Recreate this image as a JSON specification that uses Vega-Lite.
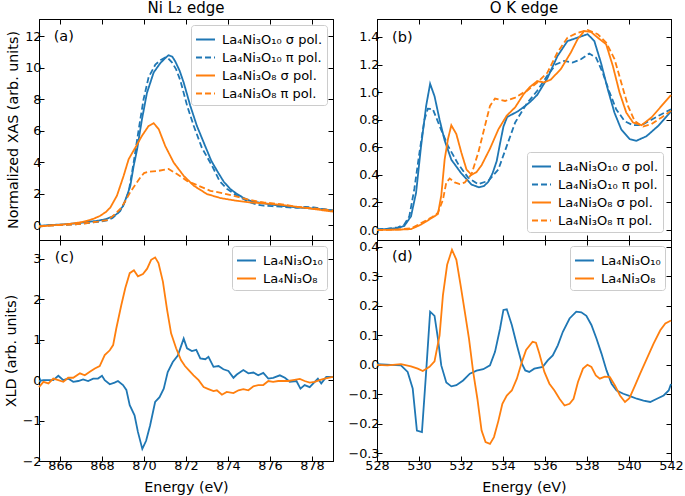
{
"$schema": "https://vega.github.io/schema/vega-lite/v6.json",
"background": "white",
"padding": {"left": 3, "top": 0, "right": 5, "bottom": 5},
"config": {
  "font": "DejaVu Sans",
  "view": {"stroke": "black", "strokeWidth": 1},
  "axis": {"grid": false, "domainColor": "black", "domainWidth": 1, "tickColor": "black", "tickWidth": 1, "tickSize": -5, "labelPadding": 3, "labelFont": "DejaVu Sans", "labelFontSize": 12.8, "labelColor": "black", "titleFont": "DejaVu Sans", "titleFontSize": 14.3, "titleFontWeight": "normal", "titleColor": "black", "titlePadding": 4, "labelFlush": false, "labelOverlap": false},
  "legend": {"symbolType": "stroke", "symbolSize": 361, "symbolStrokeWidth": 2, "labelFont": "DejaVu Sans", "labelFontSize": 13, "labelColor": "black", "labelOffset": 6, "strokeColor": "#cccccc", "fillColor": "white", "padding": 4, "cornerRadius": 3, "rowPadding": -3, "offset": 6, "labelLimit": 300},
  "title": {"font": "DejaVu Sans", "fontSize": 15, "fontWeight": "normal", "color": "black", "offset": 3}
},
"datasets": {
"a": [
{"E":865.0,"v":-0.05,"s":"La₄Ni₃O₁₀ σ pol."},{"E":865.5,"v":0.0,"s":"La₄Ni₃O₁₀ σ pol."},{"E":866.0,"v":0.03,"s":"La₄Ni₃O₁₀ σ pol."},{"E":866.5,"v":0.08,"s":"La₄Ni₃O₁₀ σ pol."},{"E":867.0,"v":0.14,"s":"La₄Ni₃O₁₀ σ pol."},{"E":867.3,"v":0.21,"s":"La₄Ni₃O₁₀ σ pol."},{"E":867.7,"v":0.25,"s":"La₄Ni₃O₁₀ σ pol."},{"E":868.2,"v":0.38,"s":"La₄Ni₃O₁₀ σ pol."},{"E":868.5,"v":0.55,"s":"La₄Ni₃O₁₀ σ pol."},{"E":868.7,"v":0.7,"s":"La₄Ni₃O₁₀ σ pol."},{"E":869.0,"v":1.2,"s":"La₄Ni₃O₁₀ σ pol."},{"E":869.2,"v":1.9,"s":"La₄Ni₃O₁₀ σ pol."},{"E":869.35,"v":2.5,"s":"La₄Ni₃O₁₀ σ pol."},{"E":869.5,"v":3.7,"s":"La₄Ni₃O₁₀ σ pol."},{"E":869.67,"v":4.8,"s":"La₄Ni₃O₁₀ σ pol."},{"E":869.9,"v":6.7,"s":"La₄Ni₃O₁₀ σ pol."},{"E":870.14,"v":8.4,"s":"La₄Ni₃O₁₀ σ pol."},{"E":870.46,"v":9.7,"s":"La₄Ni₃O₁₀ σ pol."},{"E":870.78,"v":10.3,"s":"La₄Ni₃O₁₀ σ pol."},{"E":871.0,"v":10.6,"s":"La₄Ni₃O₁₀ σ pol."},{"E":871.17,"v":10.8,"s":"La₄Ni₃O₁₀ σ pol."},{"E":871.35,"v":10.7,"s":"La₄Ni₃O₁₀ σ pol."},{"E":871.49,"v":10.4,"s":"La₄Ni₃O₁₀ σ pol."},{"E":871.7,"v":9.8,"s":"La₄Ni₃O₁₀ σ pol."},{"E":871.89,"v":9.06,"s":"La₄Ni₃O₁₀ σ pol."},{"E":872.2,"v":7.6,"s":"La₄Ni₃O₁₀ σ pol."},{"E":872.52,"v":6.3,"s":"La₄Ni₃O₁₀ σ pol."},{"E":872.92,"v":5.0,"s":"La₄Ni₃O₁₀ σ pol."},{"E":873.2,"v":4.1,"s":"La₄Ni₃O₁₀ σ pol."},{"E":873.5,"v":3.4,"s":"La₄Ni₃O₁₀ σ pol."},{"E":873.8,"v":2.75,"s":"La₄Ni₃O₁₀ σ pol."},{"E":874.1,"v":2.3,"s":"La₄Ni₃O₁₀ σ pol."},{"E":874.43,"v":1.97,"s":"La₄Ni₃O₁₀ σ pol."},{"E":874.75,"v":1.72,"s":"La₄Ni₃O₁₀ σ pol."},{"E":875.06,"v":1.54,"s":"La₄Ni₃O₁₀ σ pol."},{"E":875.4,"v":1.45,"s":"La₄Ni₃O₁₀ σ pol."},{"E":875.7,"v":1.38,"s":"La₄Ni₃O₁₀ σ pol."},{"E":876.1,"v":1.3,"s":"La₄Ni₃O₁₀ σ pol."},{"E":876.5,"v":1.23,"s":"La₄Ni₃O₁₀ σ pol."},{"E":876.9,"v":1.17,"s":"La₄Ni₃O₁₀ σ pol."},{"E":877.3,"v":1.12,"s":"La₄Ni₃O₁₀ σ pol."},{"E":877.7,"v":1.08,"s":"La₄Ni₃O₁₀ σ pol."},{"E":878.1,"v":1.05,"s":"La₄Ni₃O₁₀ σ pol."},{"E":878.5,"v":1.0,"s":"La₄Ni₃O₁₀ σ pol."},{"E":879.0,"v":0.93,"s":"La₄Ni₃O₁₀ σ pol."},
{"E":865.0,"v":-0.08,"s":"La₄Ni₃O₁₀ π pol."},{"E":865.5,"v":-0.02,"s":"La₄Ni₃O₁₀ π pol."},{"E":866.0,"v":0.0,"s":"La₄Ni₃O₁₀ π pol."},{"E":866.5,"v":0.03,"s":"La₄Ni₃O₁₀ π pol."},{"E":867.0,"v":0.08,"s":"La₄Ni₃O₁₀ π pol."},{"E":867.3,"v":0.13,"s":"La₄Ni₃O₁₀ π pol."},{"E":867.8,"v":0.2,"s":"La₄Ni₃O₁₀ π pol."},{"E":868.24,"v":0.3,"s":"La₄Ni₃O₁₀ π pol."},{"E":868.5,"v":0.45,"s":"La₄Ni₃O₁₀ π pol."},{"E":868.87,"v":0.9,"s":"La₄Ni₃O₁₀ π pol."},{"E":869.1,"v":1.5,"s":"La₄Ni₃O₁₀ π pol."},{"E":869.27,"v":2.1,"s":"La₄Ni₃O₁₀ π pol."},{"E":869.51,"v":4.0,"s":"La₄Ni₃O₁₀ π pol."},{"E":869.75,"v":6.1,"s":"La₄Ni₃O₁₀ π pol."},{"E":869.98,"v":8.0,"s":"La₄Ni₃O₁₀ π pol."},{"E":870.22,"v":9.4,"s":"La₄Ni₃O₁₀ π pol."},{"E":870.54,"v":10.2,"s":"La₄Ni₃O₁₀ π pol."},{"E":870.8,"v":10.5,"s":"La₄Ni₃O₁₀ π pol."},{"E":871.01,"v":10.65,"s":"La₄Ni₃O₁₀ π pol."},{"E":871.15,"v":10.6,"s":"La₄Ni₃O₁₀ π pol."},{"E":871.33,"v":10.35,"s":"La₄Ni₃O₁₀ π pol."},{"E":871.53,"v":9.9,"s":"La₄Ni₃O₁₀ π pol."},{"E":871.73,"v":9.2,"s":"La₄Ni₃O₁₀ π pol."},{"E":872.05,"v":7.6,"s":"La₄Ni₃O₁₀ π pol."},{"E":872.37,"v":6.3,"s":"La₄Ni₃O₁₀ π pol."},{"E":872.76,"v":4.9,"s":"La₄Ni₃O₁₀ π pol."},{"E":873.24,"v":3.77,"s":"La₄Ni₃O₁₀ π pol."},{"E":873.6,"v":2.8,"s":"La₄Ni₃O₁₀ π pol."},{"E":873.95,"v":2.3,"s":"La₄Ni₃O₁₀ π pol."},{"E":874.43,"v":1.86,"s":"La₄Ni₃O₁₀ π pol."},{"E":875.06,"v":1.44,"s":"La₄Ni₃O₁₀ π pol."},{"E":875.4,"v":1.3,"s":"La₄Ni₃O₁₀ π pol."},{"E":875.7,"v":1.23,"s":"La₄Ni₃O₁₀ π pol."},{"E":876.1,"v":1.2,"s":"La₄Ni₃O₁₀ π pol."},{"E":876.49,"v":1.17,"s":"La₄Ni₃O₁₀ π pol."},{"E":876.9,"v":1.12,"s":"La₄Ni₃O₁₀ π pol."},{"E":877.29,"v":1.1,"s":"La₄Ni₃O₁₀ π pol."},{"E":877.7,"v":1.15,"s":"La₄Ni₃O₁₀ π pol."},{"E":878.08,"v":1.12,"s":"La₄Ni₃O₁₀ π pol."},{"E":878.5,"v":1.02,"s":"La₄Ni₃O₁₀ π pol."},{"E":879.0,"v":0.93,"s":"La₄Ni₃O₁₀ π pol."},
{"E":865.0,"v":-0.1,"s":"La₄Ni₃O₈ σ pol."},{"E":865.5,"v":-0.03,"s":"La₄Ni₃O₈ σ pol."},{"E":866.0,"v":0.02,"s":"La₄Ni₃O₈ σ pol."},{"E":866.5,"v":0.08,"s":"La₄Ni₃O₈ σ pol."},{"E":867.0,"v":0.18,"s":"La₄Ni₃O₈ σ pol."},{"E":867.29,"v":0.27,"s":"La₄Ni₃O₈ σ pol."},{"E":867.6,"v":0.4,"s":"La₄Ni₃O₈ σ pol."},{"E":867.92,"v":0.59,"s":"La₄Ni₃O₈ σ pol."},{"E":868.2,"v":0.85,"s":"La₄Ni₃O₈ σ pol."},{"E":868.4,"v":1.12,"s":"La₄Ni₃O₈ σ pol."},{"E":868.71,"v":1.86,"s":"La₄Ni₃O₈ σ pol."},{"E":869.03,"v":3.13,"s":"La₄Ni₃O₈ σ pol."},{"E":869.27,"v":4.19,"s":"La₄Ni₃O₈ σ pol."},{"E":869.59,"v":4.93,"s":"La₄Ni₃O₈ σ pol."},{"E":869.9,"v":5.67,"s":"La₄Ni₃O₈ σ pol."},{"E":870.22,"v":6.3,"s":"La₄Ni₃O₈ σ pol."},{"E":870.46,"v":6.48,"s":"La₄Ni₃O₈ σ pol."},{"E":870.7,"v":6.1,"s":"La₄Ni₃O₈ σ pol."},{"E":871.01,"v":5.03,"s":"La₄Ni₃O₈ σ pol."},{"E":871.41,"v":3.98,"s":"La₄Ni₃O₈ σ pol."},{"E":871.89,"v":3.13,"s":"La₄Ni₃O₈ σ pol."},{"E":872.37,"v":2.5,"s":"La₄Ni₃O₈ σ pol."},{"E":873.0,"v":1.97,"s":"La₄Ni₃O₈ σ pol."},{"E":873.63,"v":1.72,"s":"La₄Ni₃O₈ σ pol."},{"E":874.43,"v":1.54,"s":"La₄Ni₃O₈ σ pol."},{"E":875.06,"v":1.44,"s":"La₄Ni₃O₈ σ pol."},{"E":875.7,"v":1.38,"s":"La₄Ni₃O₈ σ pol."},{"E":876.49,"v":1.29,"s":"La₄Ni₃O₈ σ pol."},{"E":877.29,"v":1.16,"s":"La₄Ni₃O₈ σ pol."},{"E":878.08,"v":1.02,"s":"La₄Ni₃O₈ σ pol."},{"E":879.0,"v":0.85,"s":"La₄Ni₃O₈ σ pol."},
{"E":865.0,"v":-0.08,"s":"La₄Ni₃O₈ π pol."},{"E":865.5,"v":-0.03,"s":"La₄Ni₃O₈ π pol."},{"E":866.0,"v":0.0,"s":"La₄Ni₃O₈ π pol."},{"E":866.5,"v":0.03,"s":"La₄Ni₃O₈ π pol."},{"E":867.0,"v":0.07,"s":"La₄Ni₃O₈ π pol."},{"E":867.29,"v":0.13,"s":"La₄Ni₃O₈ π pol."},{"E":867.8,"v":0.22,"s":"La₄Ni₃O₈ π pol."},{"E":868.24,"v":0.32,"s":"La₄Ni₃O₈ π pol."},{"E":868.5,"v":0.55,"s":"La₄Ni₃O₈ π pol."},{"E":868.87,"v":1.02,"s":"La₄Ni₃O₈ π pol."},{"E":869.1,"v":1.5,"s":"La₄Ni₃O₈ π pol."},{"E":869.35,"v":2.1,"s":"La₄Ni₃O₈ π pol."},{"E":869.6,"v":2.6,"s":"La₄Ni₃O₈ π pol."},{"E":869.83,"v":3.03,"s":"La₄Ni₃O₈ π pol."},{"E":870.0,"v":3.3,"s":"La₄Ni₃O₈ π pol."},{"E":870.22,"v":3.39,"s":"La₄Ni₃O₈ π pol."},{"E":870.7,"v":3.45,"s":"La₄Ni₃O₈ π pol."},{"E":871.17,"v":3.56,"s":"La₄Ni₃O₈ π pol."},{"E":871.57,"v":3.24,"s":"La₄Ni₃O₈ π pol."},{"E":872.05,"v":2.81,"s":"La₄Ni₃O₈ π pol."},{"E":872.52,"v":2.54,"s":"La₄Ni₃O₈ π pol."},{"E":873.16,"v":2.18,"s":"La₄Ni₃O₈ π pol."},{"E":873.8,"v":2.01,"s":"La₄Ni₃O₈ π pol."},{"E":874.43,"v":1.8,"s":"La₄Ni₃O₈ π pol."},{"E":875.06,"v":1.59,"s":"La₄Ni₃O₈ π pol."},{"E":875.7,"v":1.44,"s":"La₄Ni₃O₈ π pol."},{"E":876.49,"v":1.33,"s":"La₄Ni₃O₈ π pol."},{"E":877.29,"v":1.16,"s":"La₄Ni₃O₈ π pol."},{"E":878.08,"v":1.06,"s":"La₄Ni₃O₈ π pol."},{"E":879.0,"v":0.93,"s":"La₄Ni₃O₈ π pol."}
],
"b": [
{"E":528.0,"v":0.005,"s":"La₄Ni₃O₁₀ σ pol."},{"E":528.5,"v":0.008,"s":"La₄Ni₃O₁₀ σ pol."},{"E":529.0,"v":0.015,"s":"La₄Ni₃O₁₀ σ pol."},{"E":529.3,"v":0.03,"s":"La₄Ni₃O₁₀ σ pol."},{"E":529.62,"v":0.1,"s":"La₄Ni₃O₁₀ σ pol."},{"E":529.86,"v":0.27,"s":"La₄Ni₃O₁₀ σ pol."},{"E":530.1,"v":0.61,"s":"La₄Ni₃O₁₀ σ pol."},{"E":530.34,"v":0.9,"s":"La₄Ni₃O₁₀ σ pol."},{"E":530.53,"v":1.06,"s":"La₄Ni₃O₁₀ σ pol."},{"E":530.74,"v":0.97,"s":"La₄Ni₃O₁₀ σ pol."},{"E":530.98,"v":0.8,"s":"La₄Ni₃O₁₀ σ pol."},{"E":531.22,"v":0.65,"s":"La₄Ni₃O₁₀ σ pol."},{"E":531.54,"v":0.51,"s":"La₄Ni₃O₁₀ σ pol."},{"E":532.02,"v":0.41,"s":"La₄Ni₃O₁₀ σ pol."},{"E":532.5,"v":0.33,"s":"La₄Ni₃O₁₀ σ pol."},{"E":532.85,"v":0.31,"s":"La₄Ni₃O₁₀ σ pol."},{"E":533.1,"v":0.32,"s":"La₄Ni₃O₁₀ σ pol."},{"E":533.3,"v":0.35,"s":"La₄Ni₃O₁₀ σ pol."},{"E":533.5,"v":0.41,"s":"La₄Ni₃O₁₀ σ pol."},{"E":533.7,"v":0.5,"s":"La₄Ni₃O₁₀ σ pol."},{"E":533.85,"v":0.62,"s":"La₄Ni₃O₁₀ σ pol."},{"E":534.02,"v":0.75,"s":"La₄Ni₃O₁₀ σ pol."},{"E":534.2,"v":0.82,"s":"La₄Ni₃O₁₀ σ pol."},{"E":534.7,"v":0.86,"s":"La₄Ni₃O₁₀ σ pol."},{"E":535.06,"v":0.9,"s":"La₄Ni₃O₁₀ σ pol."},{"E":535.3,"v":0.93,"s":"La₄Ni₃O₁₀ σ pol."},{"E":535.63,"v":0.98,"s":"La₄Ni₃O₁₀ σ pol."},{"E":536.11,"v":1.1,"s":"La₄Ni₃O₁₀ σ pol."},{"E":536.59,"v":1.26,"s":"La₄Ni₃O₁₀ σ pol."},{"E":537.07,"v":1.37,"s":"La₄Ni₃O₁₀ σ pol."},{"E":537.55,"v":1.395,"s":"La₄Ni₃O₁₀ σ pol."},{"E":538.03,"v":1.42,"s":"La₄Ni₃O₁₀ σ pol."},{"E":538.35,"v":1.37,"s":"La₄Ni₃O₁₀ σ pol."},{"E":538.67,"v":1.21,"s":"La₄Ni₃O₁₀ σ pol."},{"E":538.99,"v":1.02,"s":"La₄Ni₃O₁₀ σ pol."},{"E":539.31,"v":0.85,"s":"La₄Ni₃O₁₀ σ pol."},{"E":539.63,"v":0.73,"s":"La₄Ni₃O₁₀ σ pol."},{"E":540.03,"v":0.66,"s":"La₄Ni₃O₁₀ σ pol."},{"E":540.35,"v":0.647,"s":"La₄Ni₃O₁₀ σ pol."},{"E":540.83,"v":0.68,"s":"La₄Ni₃O₁₀ σ pol."},{"E":541.39,"v":0.755,"s":"La₄Ni₃O₁₀ σ pol."},{"E":542.0,"v":0.86,"s":"La₄Ni₃O₁₀ σ pol."},
{"E":528.0,"v":0.005,"s":"La₄Ni₃O₁₀ π pol."},{"E":528.5,"v":0.01,"s":"La₄Ni₃O₁₀ π pol."},{"E":529.0,"v":0.02,"s":"La₄Ni₃O₁₀ π pol."},{"E":529.3,"v":0.04,"s":"La₄Ni₃O₁₀ π pol."},{"E":529.54,"v":0.1,"s":"La₄Ni₃O₁₀ π pol."},{"E":529.78,"v":0.3,"s":"La₄Ni₃O₁₀ π pol."},{"E":530.02,"v":0.56,"s":"La₄Ni₃O₁₀ π pol."},{"E":530.26,"v":0.8,"s":"La₄Ni₃O₁₀ π pol."},{"E":530.42,"v":0.88,"s":"La₄Ni₃O₁₀ π pol."},{"E":530.66,"v":0.876,"s":"La₄Ni₃O₁₀ π pol."},{"E":530.98,"v":0.755,"s":"La₄Ni₃O₁₀ π pol."},{"E":531.38,"v":0.61,"s":"La₄Ni₃O₁₀ π pol."},{"E":531.86,"v":0.48,"s":"La₄Ni₃O₁₀ π pol."},{"E":532.34,"v":0.38,"s":"La₄Ni₃O₁₀ π pol."},{"E":532.82,"v":0.333,"s":"La₄Ni₃O₁₀ π pol."},{"E":533.3,"v":0.357,"s":"La₄Ni₃O₁₀ π pol."},{"E":533.78,"v":0.44,"s":"La₄Ni₃O₁₀ π pol."},{"E":534.18,"v":0.61,"s":"La₄Ni₃O₁₀ π pol."},{"E":534.58,"v":0.78,"s":"La₄Ni₃O₁₀ π pol."},{"E":534.9,"v":0.86,"s":"La₄Ni₃O₁₀ π pol."},{"E":535.15,"v":0.92,"s":"La₄Ni₃O₁₀ π pol."},{"E":535.63,"v":1.01,"s":"La₄Ni₃O₁₀ π pol."},{"E":536.11,"v":1.12,"s":"La₄Ni₃O₁₀ π pol."},{"E":536.51,"v":1.2,"s":"La₄Ni₃O₁₀ π pol."},{"E":536.91,"v":1.226,"s":"La₄Ni₃O₁₀ π pol."},{"E":537.31,"v":1.214,"s":"La₄Ni₃O₁₀ π pol."},{"E":537.71,"v":1.238,"s":"La₄Ni₃O₁₀ π pol."},{"E":538.11,"v":1.28,"s":"La₄Ni₃O₁₀ π pol."},{"E":538.43,"v":1.25,"s":"La₄Ni₃O₁₀ π pol."},{"E":538.75,"v":1.14,"s":"La₄Ni₃O₁₀ π pol."},{"E":539.07,"v":1.0,"s":"La₄Ni₃O₁₀ π pol."},{"E":539.39,"v":0.876,"s":"La₄Ni₃O₁₀ π pol."},{"E":539.79,"v":0.79,"s":"La₄Ni₃O₁₀ π pol."},{"E":540.19,"v":0.76,"s":"La₄Ni₃O₁₀ π pol."},{"E":540.59,"v":0.76,"s":"La₄Ni₃O₁₀ π pol."},{"E":541.07,"v":0.8,"s":"La₄Ni₃O₁₀ π pol."},{"E":541.55,"v":0.84,"s":"La₄Ni₃O₁₀ π pol."},{"E":542.0,"v":0.876,"s":"La₄Ni₃O₁₀ π pol."},
{"E":528.0,"v":0.0,"s":"La₄Ni₃O₈ σ pol."},{"E":529.0,"v":0.003,"s":"La₄Ni₃O₈ σ pol."},{"E":529.62,"v":0.007,"s":"La₄Ni₃O₈ σ pol."},{"E":530.1,"v":0.04,"s":"La₄Ni₃O₈ σ pol."},{"E":530.58,"v":0.085,"s":"La₄Ni₃O₈ σ pol."},{"E":530.9,"v":0.116,"s":"La₄Ni₃O₈ σ pol."},{"E":531.06,"v":0.25,"s":"La₄Ni₃O₈ σ pol."},{"E":531.22,"v":0.51,"s":"La₄Ni₃O₈ σ pol."},{"E":531.38,"v":0.66,"s":"La₄Ni₃O₈ σ pol."},{"E":531.54,"v":0.76,"s":"La₄Ni₃O₈ σ pol."},{"E":531.78,"v":0.695,"s":"La₄Ni₃O₈ σ pol."},{"E":532.02,"v":0.56,"s":"La₄Ni₃O₈ σ pol."},{"E":532.26,"v":0.44,"s":"La₄Ni₃O₈ σ pol."},{"E":532.5,"v":0.4,"s":"La₄Ni₃O₈ σ pol."},{"E":532.74,"v":0.42,"s":"La₄Ni₃O₈ σ pol."},{"E":532.98,"v":0.47,"s":"La₄Ni₃O₈ σ pol."},{"E":533.38,"v":0.59,"s":"La₄Ni₃O₈ σ pol."},{"E":533.78,"v":0.73,"s":"La₄Ni₃O₈ σ pol."},{"E":534.18,"v":0.83,"s":"La₄Ni₃O₈ σ pol."},{"E":534.58,"v":0.89,"s":"La₄Ni₃O₈ σ pol."},{"E":534.98,"v":0.985,"s":"La₄Ni₃O₈ σ pol."},{"E":535.3,"v":1.04,"s":"La₄Ni₃O₈ σ pol."},{"E":535.63,"v":1.08,"s":"La₄Ni₃O₈ σ pol."},{"E":535.95,"v":1.07,"s":"La₄Ni₃O₈ σ pol."},{"E":536.27,"v":1.09,"s":"La₄Ni₃O₈ σ pol."},{"E":536.75,"v":1.166,"s":"La₄Ni₃O₈ σ pol."},{"E":537.23,"v":1.287,"s":"La₄Ni₃O₈ σ pol."},{"E":537.55,"v":1.383,"s":"La₄Ni₃O₈ σ pol."},{"E":537.87,"v":1.443,"s":"La₄Ni₃O₈ σ pol."},{"E":538.19,"v":1.436,"s":"La₄Ni₃O₈ σ pol."},{"E":538.51,"v":1.395,"s":"La₄Ni₃O₈ σ pol."},{"E":538.91,"v":1.347,"s":"La₄Ni₃O₈ σ pol."},{"E":539.23,"v":1.19,"s":"La₄Ni₃O₈ σ pol."},{"E":539.55,"v":0.997,"s":"La₄Ni₃O₈ σ pol."},{"E":539.87,"v":0.852,"s":"La₄Ni₃O₈ σ pol."},{"E":540.19,"v":0.78,"s":"La₄Ni₃O₈ σ pol."},{"E":540.59,"v":0.76,"s":"La₄Ni₃O₈ σ pol."},{"E":541.07,"v":0.816,"s":"La₄Ni₃O₈ σ pol."},{"E":541.55,"v":0.9,"s":"La₄Ni₃O₈ σ pol."},{"E":542.0,"v":0.978,"s":"La₄Ni₃O₈ σ pol."},
{"E":528.0,"v":0.0,"s":"La₄Ni₃O₈ π pol."},{"E":529.0,"v":0.004,"s":"La₄Ni₃O₈ π pol."},{"E":529.62,"v":0.012,"s":"La₄Ni₃O₈ π pol."},{"E":530.1,"v":0.05,"s":"La₄Ni₃O₈ π pol."},{"E":530.58,"v":0.09,"s":"La₄Ni₃O₈ π pol."},{"E":530.9,"v":0.125,"s":"La₄Ni₃O₈ π pol."},{"E":531.14,"v":0.22,"s":"La₄Ni₃O₈ π pol."},{"E":531.3,"v":0.345,"s":"La₄Ni₃O₈ π pol."},{"E":531.46,"v":0.374,"s":"La₄Ni₃O₈ π pol."},{"E":531.7,"v":0.345,"s":"La₄Ni₃O₈ π pol."},{"E":531.94,"v":0.333,"s":"La₄Ni₃O₈ π pol."},{"E":532.18,"v":0.345,"s":"La₄Ni₃O₈ π pol."},{"E":532.5,"v":0.405,"s":"La₄Ni₃O₈ π pol."},{"E":532.82,"v":0.56,"s":"La₄Ni₃O₈ π pol."},{"E":533.14,"v":0.755,"s":"La₄Ni₃O₈ π pol."},{"E":533.38,"v":0.9,"s":"La₄Ni₃O₈ π pol."},{"E":533.62,"v":0.953,"s":"La₄Ni₃O₈ π pol."},{"E":534.1,"v":0.936,"s":"La₄Ni₃O₈ π pol."},{"E":534.58,"v":0.96,"s":"La₄Ni₃O₈ π pol."},{"E":534.98,"v":0.997,"s":"La₄Ni₃O₈ π pol."},{"E":535.15,"v":1.01,"s":"La₄Ni₃O₈ π pol."},{"E":535.63,"v":1.07,"s":"La₄Ni₃O₈ π pol."},{"E":536.11,"v":1.14,"s":"La₄Ni₃O₈ π pol."},{"E":536.59,"v":1.287,"s":"La₄Ni₃O₈ π pol."},{"E":537.07,"v":1.395,"s":"La₄Ni₃O₈ π pol."},{"E":537.55,"v":1.43,"s":"La₄Ni₃O₈ π pol."},{"E":538.03,"v":1.45,"s":"La₄Ni₃O₈ π pol."},{"E":538.51,"v":1.42,"s":"La₄Ni₃O₈ π pol."},{"E":538.91,"v":1.36,"s":"La₄Ni₃O₈ π pol."},{"E":539.31,"v":1.24,"s":"La₄Ni₃O₈ π pol."},{"E":539.63,"v":1.07,"s":"La₄Ni₃O₈ π pol."},{"E":539.95,"v":0.9,"s":"La₄Ni₃O₈ π pol."},{"E":540.27,"v":0.79,"s":"La₄Ni₃O₈ π pol."},{"E":540.67,"v":0.75,"s":"La₄Ni₃O₈ π pol."},{"E":541.07,"v":0.768,"s":"La₄Ni₃O₈ π pol."},{"E":541.55,"v":0.816,"s":"La₄Ni₃O₈ π pol."},{"E":542.0,"v":0.864,"s":"La₄Ni₃O₈ π pol."}
],
"c": [
{"E":865.0,"v":-0.02,"s":"La₄Ni₃O₁₀"},{"E":865.21,"v":0.0,"s":"La₄Ni₃O₁₀"},{"E":865.45,"v":0.0,"s":"La₄Ni₃O₁₀"},{"E":865.68,"v":0.0,"s":"La₄Ni₃O₁₀"},{"E":865.92,"v":0.11,"s":"La₄Ni₃O₁₀"},{"E":866.16,"v":0.0,"s":"La₄Ni₃O₁₀"},{"E":866.39,"v":0.04,"s":"La₄Ni₃O₁₀"},{"E":866.63,"v":-0.04,"s":"La₄Ni₃O₁₀"},{"E":866.87,"v":-0.02,"s":"La₄Ni₃O₁₀"},{"E":867.1,"v":0.02,"s":"La₄Ni₃O₁₀"},{"E":867.34,"v":-0.02,"s":"La₄Ni₃O₁₀"},{"E":867.58,"v":0.04,"s":"La₄Ni₃O₁₀"},{"E":867.81,"v":0.04,"s":"La₄Ni₃O₁₀"},{"E":868.0,"v":0.11,"s":"La₄Ni₃O₁₀"},{"E":868.13,"v":0.0,"s":"La₄Ni₃O₁₀"},{"E":868.37,"v":-0.1,"s":"La₄Ni₃O₁₀"},{"E":868.6,"v":-0.06,"s":"La₄Ni₃O₁₀"},{"E":868.76,"v":-0.02,"s":"La₄Ni₃O₁₀"},{"E":869.0,"v":-0.12,"s":"La₄Ni₃O₁₀"},{"E":869.16,"v":-0.24,"s":"La₄Ni₃O₁₀"},{"E":869.32,"v":-0.62,"s":"La₄Ni₃O₁₀"},{"E":869.55,"v":-0.87,"s":"La₄Ni₃O₁₀"},{"E":869.71,"v":-1.28,"s":"La₄Ni₃O₁₀"},{"E":869.92,"v":-1.7,"s":"La₄Ni₃O₁₀"},{"E":870.1,"v":-1.5,"s":"La₄Ni₃O₁₀"},{"E":870.29,"v":-1.12,"s":"La₄Ni₃O₁₀"},{"E":870.53,"v":-0.54,"s":"La₄Ni₃O₁₀"},{"E":870.74,"v":-0.42,"s":"La₄Ni₃O₁₀"},{"E":870.94,"v":-0.21,"s":"La₄Ni₃O₁₀"},{"E":871.13,"v":0.2,"s":"La₄Ni₃O₁₀"},{"E":871.37,"v":0.45,"s":"La₄Ni₃O₁₀"},{"E":871.61,"v":0.61,"s":"La₄Ni₃O₁₀"},{"E":871.89,"v":1.03,"s":"La₄Ni₃O₁₀"},{"E":872.05,"v":0.79,"s":"La₄Ni₃O₁₀"},{"E":872.28,"v":0.72,"s":"La₄Ni₃O₁₀"},{"E":872.49,"v":0.75,"s":"La₄Ni₃O₁₀"},{"E":872.68,"v":0.54,"s":"La₄Ni₃O₁₀"},{"E":872.92,"v":0.52,"s":"La₄Ni₃O₁₀"},{"E":873.07,"v":0.58,"s":"La₄Ni₃O₁₀"},{"E":873.31,"v":0.33,"s":"La₄Ni₃O₁₀"},{"E":873.55,"v":0.35,"s":"La₄Ni₃O₁₀"},{"E":873.78,"v":0.27,"s":"La₄Ni₃O₁₀"},{"E":874.02,"v":0.23,"s":"La₄Ni₃O₁₀"},{"E":874.26,"v":0.06,"s":"La₄Ni₃O₁₀"},{"E":874.42,"v":0.14,"s":"La₄Ni₃O₁₀"},{"E":874.73,"v":0.25,"s":"La₄Ni₃O₁₀"},{"E":874.97,"v":0.17,"s":"La₄Ni₃O₁₀"},{"E":875.21,"v":0.19,"s":"La₄Ni₃O₁₀"},{"E":875.44,"v":0.12,"s":"La₄Ni₃O₁₀"},{"E":875.68,"v":0.18,"s":"La₄Ni₃O₁₀"},{"E":875.92,"v":0.04,"s":"La₄Ni₃O₁₀"},{"E":876.15,"v":0.06,"s":"La₄Ni₃O₁₀"},{"E":876.47,"v":0.12,"s":"La₄Ni₃O₁₀"},{"E":876.71,"v":0.06,"s":"La₄Ni₃O₁₀"},{"E":876.94,"v":-0.04,"s":"La₄Ni₃O₁₀"},{"E":877.26,"v":-0.02,"s":"La₄Ni₃O₁₀"},{"E":877.45,"v":-0.21,"s":"La₄Ni₃O₁₀"},{"E":877.65,"v":-0.12,"s":"La₄Ni₃O₁₀"},{"E":877.89,"v":-0.17,"s":"La₄Ni₃O₁₀"},{"E":878.13,"v":-0.04,"s":"La₄Ni₃O₁₀"},{"E":878.28,"v":0.04,"s":"La₄Ni₃O₁₀"},{"E":878.44,"v":-0.08,"s":"La₄Ni₃O₁₀"},{"E":878.68,"v":0.08,"s":"La₄Ni₃O₁₀"},{"E":879.0,"v":0.08,"s":"La₄Ni₃O₁₀"},
{"E":865.0,"v":-0.17,"s":"La₄Ni₃O₈"},{"E":865.21,"v":-0.04,"s":"La₄Ni₃O₈"},{"E":865.45,"v":-0.08,"s":"La₄Ni₃O₈"},{"E":865.68,"v":0.04,"s":"La₄Ni₃O₈"},{"E":865.92,"v":0.0,"s":"La₄Ni₃O₈"},{"E":866.16,"v":-0.04,"s":"La₄Ni₃O₈"},{"E":866.39,"v":0.06,"s":"La₄Ni₃O₈"},{"E":866.63,"v":0.06,"s":"La₄Ni₃O₈"},{"E":866.95,"v":0.17,"s":"La₄Ni₃O₈"},{"E":867.18,"v":0.12,"s":"La₄Ni₃O₈"},{"E":867.42,"v":0.21,"s":"La₄Ni₃O₈"},{"E":867.66,"v":0.29,"s":"La₄Ni₃O₈"},{"E":867.89,"v":0.35,"s":"La₄Ni₃O₈"},{"E":868.13,"v":0.62,"s":"La₄Ni₃O₈"},{"E":868.37,"v":0.74,"s":"La₄Ni₃O₈"},{"E":868.53,"v":0.87,"s":"La₄Ni₃O₈"},{"E":868.68,"v":1.28,"s":"La₄Ni₃O₈"},{"E":868.92,"v":1.86,"s":"La₄Ni₃O₈"},{"E":869.11,"v":2.28,"s":"La₄Ni₃O₈"},{"E":869.32,"v":2.65,"s":"La₄Ni₃O₈"},{"E":869.52,"v":2.72,"s":"La₄Ni₃O₈"},{"E":869.71,"v":2.57,"s":"La₄Ni₃O₈"},{"E":869.95,"v":2.63,"s":"La₄Ni₃O₈"},{"E":870.15,"v":2.76,"s":"La₄Ni₃O₈"},{"E":870.34,"v":2.98,"s":"La₄Ni₃O₈"},{"E":870.53,"v":3.04,"s":"La₄Ni₃O₈"},{"E":870.69,"v":2.9,"s":"La₄Ni₃O₈"},{"E":870.9,"v":2.44,"s":"La₄Ni₃O₈"},{"E":871.1,"v":1.74,"s":"La₄Ni₃O₈"},{"E":871.29,"v":1.16,"s":"La₄Ni₃O₈"},{"E":871.53,"v":0.79,"s":"La₄Ni₃O₈"},{"E":871.76,"v":0.5,"s":"La₄Ni₃O₈"},{"E":871.95,"v":0.35,"s":"La₄Ni₃O₈"},{"E":872.13,"v":0.25,"s":"La₄Ni₃O₈"},{"E":872.36,"v":0.12,"s":"La₄Ni₃O₈"},{"E":872.6,"v":0.0,"s":"La₄Ni₃O₈"},{"E":872.84,"v":-0.17,"s":"La₄Ni₃O₈"},{"E":873.07,"v":-0.22,"s":"La₄Ni₃O₈"},{"E":873.31,"v":-0.27,"s":"La₄Ni₃O₈"},{"E":873.47,"v":-0.25,"s":"La₄Ni₃O₈"},{"E":873.71,"v":-0.36,"s":"La₄Ni₃O₈"},{"E":873.94,"v":-0.29,"s":"La₄Ni₃O₈"},{"E":874.26,"v":-0.32,"s":"La₄Ni₃O₈"},{"E":874.5,"v":-0.25,"s":"La₄Ni₃O₈"},{"E":874.73,"v":-0.22,"s":"La₄Ni₃O₈"},{"E":874.97,"v":-0.25,"s":"La₄Ni₃O₈"},{"E":875.21,"v":-0.15,"s":"La₄Ni₃O₈"},{"E":875.44,"v":-0.12,"s":"La₄Ni₃O₈"},{"E":875.68,"v":-0.12,"s":"La₄Ni₃O₈"},{"E":875.92,"v":-0.02,"s":"La₄Ni₃O₈"},{"E":876.15,"v":-0.04,"s":"La₄Ni₃O₈"},{"E":876.39,"v":-0.02,"s":"La₄Ni₃O₈"},{"E":876.63,"v":-0.02,"s":"La₄Ni₃O₈"},{"E":876.86,"v":-0.02,"s":"La₄Ni₃O₈"},{"E":877.1,"v":0.0,"s":"La₄Ni₃O₈"},{"E":877.42,"v":0.03,"s":"La₄Ni₃O₈"},{"E":877.65,"v":-0.02,"s":"La₄Ni₃O₈"},{"E":877.89,"v":-0.06,"s":"La₄Ni₃O₈"},{"E":878.13,"v":-0.04,"s":"La₄Ni₃O₈"},{"E":878.36,"v":0.0,"s":"La₄Ni₃O₈"},{"E":878.6,"v":0.04,"s":"La₄Ni₃O₈"},{"E":879.0,"v":0.08,"s":"La₄Ni₃O₈"}
],
"d": [
{"E":528.0,"v":0.002,"s":"La₄Ni₃O₁₀"},{"E":528.66,"v":0.0,"s":"La₄Ni₃O₁₀"},{"E":529.14,"v":-0.002,"s":"La₄Ni₃O₁₀"},{"E":529.46,"v":-0.024,"s":"La₄Ni₃O₁₀"},{"E":529.7,"v":-0.08,"s":"La₄Ni₃O₁₀"},{"E":529.9,"v":-0.223,"s":"La₄Ni₃O₁₀"},{"E":530.14,"v":-0.228,"s":"La₄Ni₃O₁₀"},{"E":530.34,"v":-0.024,"s":"La₄Ni₃O₁₀"},{"E":530.53,"v":0.18,"s":"La₄Ni₃O₁₀"},{"E":530.74,"v":0.166,"s":"La₄Ni₃O₁₀"},{"E":530.9,"v":0.09,"s":"La₄Ni₃O₁₀"},{"E":531.06,"v":-0.002,"s":"La₄Ni₃O₁₀"},{"E":531.3,"v":-0.06,"s":"La₄Ni₃O₁₀"},{"E":531.54,"v":-0.073,"s":"La₄Ni₃O₁₀"},{"E":531.78,"v":-0.069,"s":"La₄Ni₃O₁₀"},{"E":532.1,"v":-0.053,"s":"La₄Ni₃O₁₀"},{"E":532.42,"v":-0.03,"s":"La₄Ni₃O₁₀"},{"E":532.74,"v":-0.02,"s":"La₄Ni₃O₁₀"},{"E":533.06,"v":-0.015,"s":"La₄Ni₃O₁₀"},{"E":533.38,"v":-0.002,"s":"La₄Ni₃O₁₀"},{"E":533.62,"v":0.044,"s":"La₄Ni₃O₁₀"},{"E":533.86,"v":0.123,"s":"La₄Ni₃O₁₀"},{"E":534.02,"v":0.186,"s":"La₄Ni₃O₁₀"},{"E":534.18,"v":0.188,"s":"La₄Ni₃O₁₀"},{"E":534.42,"v":0.135,"s":"La₄Ni₃O₁₀"},{"E":534.66,"v":0.067,"s":"La₄Ni₃O₁₀"},{"E":534.9,"v":0.004,"s":"La₄Ni₃O₁₀"},{"E":535.06,"v":-0.019,"s":"La₄Ni₃O₁₀"},{"E":535.25,"v":-0.024,"s":"La₄Ni₃O₁₀"},{"E":535.49,"v":-0.013,"s":"La₄Ni₃O₁₀"},{"E":535.89,"v":-0.007,"s":"La₄Ni₃O₁₀"},{"E":536.13,"v":0.015,"s":"La₄Ni₃O₁₀"},{"E":536.37,"v":0.032,"s":"La₄Ni₃O₁₀"},{"E":536.61,"v":0.066,"s":"La₄Ni₃O₁₀"},{"E":536.85,"v":0.112,"s":"La₄Ni₃O₁₀"},{"E":537.17,"v":0.157,"s":"La₄Ni₃O₁₀"},{"E":537.49,"v":0.18,"s":"La₄Ni₃O₁₀"},{"E":537.73,"v":0.178,"s":"La₄Ni₃O₁₀"},{"E":537.97,"v":0.166,"s":"La₄Ni₃O₁₀"},{"E":538.21,"v":0.135,"s":"La₄Ni₃O₁₀"},{"E":538.45,"v":0.089,"s":"La₄Ni₃O₁₀"},{"E":538.69,"v":0.038,"s":"La₄Ni₃O₁₀"},{"E":538.93,"v":-0.019,"s":"La₄Ni₃O₁₀"},{"E":539.17,"v":-0.064,"s":"La₄Ni₃O₁₀"},{"E":539.41,"v":-0.087,"s":"La₄Ni₃O₁₀"},{"E":539.73,"v":-0.098,"s":"La₄Ni₃O₁₀"},{"E":540.05,"v":-0.106,"s":"La₄Ni₃O₁₀"},{"E":540.37,"v":-0.115,"s":"La₄Ni₃O₁₀"},{"E":540.69,"v":-0.121,"s":"La₄Ni₃O₁₀"},{"E":541.01,"v":-0.126,"s":"La₄Ni₃O₁₀"},{"E":541.33,"v":-0.115,"s":"La₄Ni₃O₁₀"},{"E":541.65,"v":-0.104,"s":"La₄Ni₃O₁₀"},{"E":541.89,"v":-0.087,"s":"La₄Ni₃O₁₀"},{"E":542.0,"v":-0.065,"s":"La₄Ni₃O₁₀"},
{"E":528.0,"v":0.0,"s":"La₄Ni₃O₈"},{"E":528.5,"v":-0.002,"s":"La₄Ni₃O₈"},{"E":529.14,"v":0.002,"s":"La₄Ni₃O₈"},{"E":529.62,"v":-0.005,"s":"La₄Ni₃O₈"},{"E":529.94,"v":-0.013,"s":"La₄Ni₃O₈"},{"E":530.18,"v":-0.021,"s":"La₄Ni₃O₈"},{"E":530.5,"v":-0.007,"s":"La₄Ni₃O₈"},{"E":530.74,"v":0.012,"s":"La₄Ni₃O₈"},{"E":530.98,"v":0.1,"s":"La₄Ni₃O₈"},{"E":531.14,"v":0.236,"s":"La₄Ni₃O₈"},{"E":531.34,"v":0.339,"s":"La₄Ni₃O₈"},{"E":531.57,"v":0.39,"s":"La₄Ni₃O₈"},{"E":531.78,"v":0.356,"s":"La₄Ni₃O₈"},{"E":531.98,"v":0.27,"s":"La₄Ni₃O₈"},{"E":532.18,"v":0.18,"s":"La₄Ni₃O₈"},{"E":532.38,"v":0.089,"s":"La₄Ni₃O₈"},{"E":532.58,"v":-0.024,"s":"La₄Ni₃O₈"},{"E":532.78,"v":-0.115,"s":"La₄Ni₃O₈"},{"E":532.98,"v":-0.223,"s":"La₄Ni₃O₈"},{"E":533.17,"v":-0.262,"s":"La₄Ni₃O₈"},{"E":533.38,"v":-0.268,"s":"La₄Ni₃O₈"},{"E":533.57,"v":-0.245,"s":"La₄Ni₃O₈"},{"E":533.78,"v":-0.19,"s":"La₄Ni₃O₈"},{"E":533.97,"v":-0.132,"s":"La₄Ni₃O₈"},{"E":534.18,"v":-0.104,"s":"La₄Ni₃O₈"},{"E":534.42,"v":-0.087,"s":"La₄Ni₃O₈"},{"E":534.66,"v":-0.047,"s":"La₄Ni₃O₈"},{"E":534.9,"v":0.01,"s":"La₄Ni₃O₈"},{"E":535.1,"v":0.05,"s":"La₄Ni₃O₈"},{"E":535.41,"v":0.078,"s":"La₄Ni₃O₈"},{"E":535.57,"v":0.075,"s":"La₄Ni₃O₈"},{"E":535.73,"v":0.038,"s":"La₄Ni₃O₈"},{"E":535.97,"v":-0.024,"s":"La₄Ni₃O₈"},{"E":536.21,"v":-0.064,"s":"La₄Ni₃O₈"},{"E":536.45,"v":-0.087,"s":"La₄Ni₃O₈"},{"E":536.69,"v":-0.115,"s":"La₄Ni₃O₈"},{"E":536.93,"v":-0.138,"s":"La₄Ni₃O₈"},{"E":537.17,"v":-0.132,"s":"La₄Ni₃O₈"},{"E":537.36,"v":-0.115,"s":"La₄Ni₃O₈"},{"E":537.57,"v":-0.058,"s":"La₄Ni₃O₈"},{"E":537.81,"v":-0.013,"s":"La₄Ni₃O₈"},{"E":538.02,"v":0.0,"s":"La₄Ni₃O₈"},{"E":538.21,"v":-0.007,"s":"La₄Ni₃O₈"},{"E":538.42,"v":-0.036,"s":"La₄Ni₃O₈"},{"E":538.61,"v":-0.047,"s":"La₄Ni₃O₈"},{"E":538.85,"v":-0.04,"s":"La₄Ni₃O₈"},{"E":539.09,"v":-0.042,"s":"La₄Ni₃O₈"},{"E":539.33,"v":-0.07,"s":"La₄Ni₃O₈"},{"E":539.57,"v":-0.104,"s":"La₄Ni₃O₈"},{"E":539.81,"v":-0.126,"s":"La₄Ni₃O₈"},{"E":540.02,"v":-0.113,"s":"La₄Ni₃O₈"},{"E":540.29,"v":-0.07,"s":"La₄Ni₃O₈"},{"E":540.53,"v":-0.03,"s":"La₄Ni₃O₈"},{"E":540.85,"v":0.021,"s":"La₄Ni₃O₈"},{"E":541.17,"v":0.072,"s":"La₄Ni₃O₈"},{"E":541.49,"v":0.117,"s":"La₄Ni₃O₈"},{"E":541.73,"v":0.14,"s":"La₄Ni₃O₈"},{"E":542.0,"v":0.15,"s":"La₄Ni₃O₈"}
]
},
"columns": 2,
"spacing": {"row": 0, "column": 44},
"bounds": "flush",
"resolve": {"scale": {"color": "independent", "strokeDash": "independent", "x": "independent", "y": "independent"}, "legend": {"color": "independent", "strokeDash": "independent"}},
"concat": [
{
 "width": 294, "height": 221,
 "title": "Ni L₂ edge",
 "layer": [
  {"data": {"name": "a"},
   "mark": {"type": "line", "strokeWidth": 1.8},
   "encoding": {
    "x": {"field": "E", "type": "quantitative", "scale": {"domain": [865, 879], "nice": false, "zero": false}, "axis": {"values": [866,868,870,872,874,876,878], "labels": false, "title": null}},
    "y": {"field": "v", "type": "quantitative", "scale": {"domain": [-0.95, 13.1], "nice": false, "zero": false}, "axis": {"values": [0,2,4,6,8,10,12], "format": "d", "title": "Normalized XAS (arb. units)"}},
    "color": {"field": "s", "type": "nominal", "scale": {"domain": ["La₄Ni₃O₁₀ σ pol.","La₄Ni₃O₁₀ π pol.","La₄Ni₃O₈ σ pol.","La₄Ni₃O₈ π pol."], "range": ["#1f77b4","#1f77b4","#ff7f0e","#ff7f0e"]}, "legend": {"title": null, "orient": "top-right"}},
    "strokeDash": {"field": "s", "type": "nominal", "scale": {"domain": ["La₄Ni₃O₁₀ σ pol.","La₄Ni₃O₁₀ π pol.","La₄Ni₃O₈ σ pol.","La₄Ni₃O₈ π pol."], "range": [[1,0],[6,3],[1,0],[6,3]]}, "legend": {"title": null, "orient": "top-right"}}
   }},
  {"data": {"values": [{}]},
   "mark": {"type": "text", "align": "left", "baseline": "middle", "fontSize": 14.5, "font": "DejaVu Sans", "color": "black"},
   "encoding": {
    "text": {"value": "(a)"},
    "x": {"datum": 865.7, "type": "quantitative", "axis": {"orient": "top", "values": [866,868,870,872,874,876,878], "labels": false, "title": null}},
    "y": {"datum": 11.95, "type": "quantitative", "axis": {"orient": "right", "values": [0,2,4,6,8,10,12], "labels": false, "title": null}}
   }}
 ],
 "resolve": {"axis": {"x": "independent", "y": "independent"}}
},
{
 "width": 294, "height": 221,
 "title": "O K edge",
 "layer": [
  {"data": {"name": "b"},
   "mark": {"type": "line", "strokeWidth": 1.8},
   "encoding": {
    "x": {"field": "E", "type": "quantitative", "scale": {"domain": [528, 542], "nice": false, "zero": false}, "axis": {"values": [528,530,532,534,536,538,540,542], "labels": false, "title": null}},
    "y": {"field": "v", "type": "quantitative", "scale": {"domain": [-0.072, 1.53], "nice": false, "zero": false}, "axis": {"values": [0,0.2,0.4,0.6,0.8,1.0,1.2,1.4], "format": ".1f", "title": null}},
    "color": {"field": "s", "type": "nominal", "scale": {"domain": ["La₄Ni₃O₁₀ σ pol.","La₄Ni₃O₁₀ π pol.","La₄Ni₃O₈ σ pol.","La₄Ni₃O₈ π pol."], "range": ["#1f77b4","#1f77b4","#ff7f0e","#ff7f0e"]}, "legend": {"title": null, "orient": "bottom-right", "offset": 8}},
    "strokeDash": {"field": "s", "type": "nominal", "scale": {"domain": ["La₄Ni₃O₁₀ σ pol.","La₄Ni₃O₁₀ π pol.","La₄Ni₃O₈ σ pol.","La₄Ni₃O₈ π pol."], "range": [[1,0],[6,3],[1,0],[6,3]]}, "legend": {"title": null, "orient": "bottom-right", "offset": 8}}
   }},
  {"data": {"values": [{}]},
   "mark": {"type": "text", "align": "left", "baseline": "middle", "fontSize": 14.5, "font": "DejaVu Sans", "color": "black"},
   "encoding": {
    "text": {"value": "(b)"},
    "x": {"datum": 528.72, "type": "quantitative", "axis": {"orient": "top", "values": [528,530,532,534,536,538,540,542], "labels": false, "title": null}},
    "y": {"datum": 1.395, "type": "quantitative", "axis": {"orient": "right", "values": [0,0.2,0.4,0.6,0.8,1.0,1.2,1.4], "labels": false, "title": null}}
   }}
 ],
 "resolve": {"axis": {"x": "independent", "y": "independent"}}
},
{
 "width": 294, "height": 221,
 "layer": [
  {"data": {"name": "c"},
   "mark": {"type": "line", "strokeWidth": 1.8},
   "encoding": {
    "x": {"field": "E", "type": "quantitative", "scale": {"domain": [865, 879], "nice": false, "zero": false}, "axis": {"values": [866,868,870,872,874,876,878], "format": "d", "title": "Energy (eV)", "titlePadding": 9}},
    "y": {"field": "v", "type": "quantitative", "scale": {"domain": [-2.0, 3.47], "nice": false, "zero": false}, "axis": {"values": [-2,-1,0,1,2,3], "format": "d", "title": "XLD (arb. units)"}},
    "color": {"field": "s", "type": "nominal", "scale": {"domain": ["La₄Ni₃O₁₀","La₄Ni₃O₈"], "range": ["#1f77b4","#ff7f0e"]}, "legend": {"title": null, "orient": "top-right"}}
   }},
  {"data": {"values": [{}]},
   "mark": {"type": "text", "align": "left", "baseline": "middle", "fontSize": 14.5, "font": "DejaVu Sans", "color": "black"},
   "encoding": {
    "text": {"value": "(c)"},
    "x": {"datum": 865.75, "type": "quantitative", "axis": {"orient": "top", "values": [866,868,870,872,874,876,878], "labels": false, "title": null}},
    "y": {"datum": 3.02, "type": "quantitative", "axis": {"orient": "right", "values": [-2,-1,0,1,2,3], "labels": false, "title": null}}
   }}
 ],
 "resolve": {"axis": {"x": "independent", "y": "independent"}}
},
{
 "width": 294, "height": 221,
 "layer": [
  {"data": {"name": "d"},
   "mark": {"type": "line", "strokeWidth": 1.8},
   "encoding": {
    "x": {"field": "E", "type": "quantitative", "scale": {"domain": [528, 542], "nice": false, "zero": false}, "axis": {"values": [528,530,532,534,536,538,540,542], "format": "d", "title": "Energy (eV)", "titlePadding": 9}},
    "y": {"field": "v", "type": "quantitative", "scale": {"domain": [-0.326, 0.423], "nice": false, "zero": false}, "axis": {"values": [-0.3,-0.2,-0.1,0,0.1,0.2,0.3,0.4], "format": ".1f", "title": null}},
    "color": {"field": "s", "type": "nominal", "scale": {"domain": ["La₄Ni₃O₁₀","La₄Ni₃O₈"], "range": ["#1f77b4","#ff7f0e"]}, "legend": {"title": null, "orient": "top-right"}}
   }},
  {"data": {"values": [{}]},
   "mark": {"type": "text", "align": "left", "baseline": "middle", "fontSize": 14.5, "font": "DejaVu Sans", "color": "black"},
   "encoding": {
    "text": {"value": "(d)"},
    "x": {"datum": 528.72, "type": "quantitative", "axis": {"orient": "top", "values": [528,530,532,534,536,538,540,542], "labels": false, "title": null}},
    "y": {"datum": 0.366, "type": "quantitative", "axis": {"orient": "right", "values": [-0.3,-0.2,-0.1,0,0.1,0.2,0.3,0.4], "labels": false, "title": null}}
   }}
 ],
 "resolve": {"axis": {"x": "independent", "y": "independent"}}
}
]
}
